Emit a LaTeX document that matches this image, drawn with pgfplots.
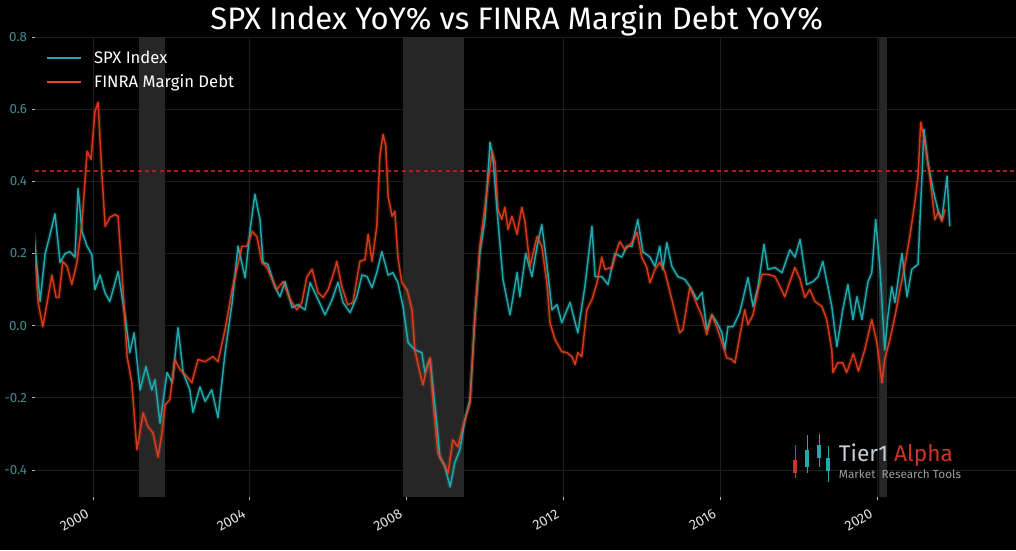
\documentclass[border=0pt]{standalone}
\usepackage{fontspec}
\setmainfont{Fira Sans}
\usepackage{pgfplots}
\usepackage{pgfplotstable}
\pgfplotsset{compat=1.18}
\definecolor{spx}{RGB}{32,168,172}
\definecolor{mrg}{RGB}{240,66,28}
\definecolor{thr}{RGB}{178,28,28}
\definecolor{ytc}{RGB}{62,140,146}
\definecolor{gridc}{RGB}{30,30,30}
\definecolor{shade}{RGB}{38,38,38}
\definecolor{wmgray}{RGB}{200,205,215}
\definecolor{wmred}{RGB}{205,52,40}

\pgfplotstableread{
x y
1998.49 0.258
1998.65 0.067
1998.78 0.20
1998.90 0.25
1999.03 0.31
1999.16 0.175
1999.29 0.20
1999.41 0.205
1999.54 0.19
1999.62 0.38
1999.72 0.26
1999.85 0.22
1999.97 0.197
2000.05 0.10
2000.18 0.14
2000.31 0.09
2000.43 0.067
2000.64 0.15
2000.82 0.025
2000.94 -0.075
2001.05 -0.02
2001.20 -0.178
2001.35 -0.114
2001.50 -0.178
2001.58 -0.15
2001.71 -0.27
2001.89 -0.13
2002.02 -0.158
2002.17 -0.006
2002.30 -0.13
2002.47 -0.178
2002.55 -0.24
2002.73 -0.17
2002.86 -0.21
2003.03 -0.178
2003.19 -0.255
2003.37 -0.075
2003.55 0.064
2003.70 0.22
2003.88 0.133
2004.01 0.267
2004.13 0.364
2004.26 0.294
2004.34 0.175
2004.46 0.17
2004.64 0.108
2004.77 0.08
2004.90 0.122
2005.08 0.05
2005.23 0.058
2005.41 0.044
2005.54 0.119
2005.71 0.08
2005.92 0.03
2006.10 0.072
2006.25 0.12
2006.38 0.064
2006.56 0.036
2006.73 0.08
2006.86 0.14
2006.99 0.136
2007.12 0.105
2007.24 0.147
2007.37 0.205
2007.53 0.14
2007.65 0.147
2007.78 0.119
2007.91 0.053
2008.04 -0.047
2008.21 -0.067
2008.39 -0.075
2008.47 -0.13
2008.60 -0.094
2008.78 -0.28
2008.85 -0.364
2008.98 -0.39
2009.11 -0.447
2009.23 -0.38
2009.36 -0.344
2009.49 -0.26
2009.62 -0.205
2009.74 0.017
2009.87 0.20
2010.00 0.294
2010.13 0.508
2010.20 0.47
2010.31 0.32
2010.38 0.23
2010.46 0.128
2010.64 0.03
2010.82 0.147
2010.89 0.08
2011.04 0.20
2011.20 0.136
2011.33 0.22
2011.45 0.28
2011.58 0.17
2011.71 0.044
2011.84 0.058
2011.96 0.008
2012.17 0.064
2012.37 -0.02
2012.55 0.108
2012.73 0.275
2012.81 0.136
2012.98 0.136
2013.14 0.114
2013.32 0.20
2013.49 0.19
2013.62 0.22
2013.75 0.22
2013.90 0.294
2014.03 0.205
2014.21 0.19
2014.34 0.164
2014.46 0.22
2014.54 0.156
2014.64 0.23
2014.77 0.164
2014.92 0.136
2015.10 0.128
2015.23 0.108
2015.41 0.072
2015.54 0.092
2015.66 -0.011
2015.79 0.03
2015.92 0.008
2016.05 -0.02
2016.12 -0.067
2016.20 -0.003
2016.33 -0.003
2016.50 0.036
2016.58 0.072
2016.71 0.133
2016.84 0.053
2016.97 0.108
2017.12 0.225
2017.22 0.156
2017.40 0.161
2017.58 0.147
2017.78 0.21
2017.91 0.19
2018.04 0.239
2018.21 0.114
2018.37 0.122
2018.50 0.136
2018.62 0.178
2018.75 0.108
2018.85 0.053
2018.98 -0.058
2019.13 0.044
2019.26 0.114
2019.39 0.017
2019.49 0.08
2019.62 0.017
2019.77 0.12
2019.87 0.147
2019.97 0.294
2020.08 0.156
2020.20 -0.067
2020.28 0.025
2020.38 0.108
2020.46 0.064
2020.64 0.20
2020.77 0.08
2020.89 0.156
2021.05 0.17
2021.15 0.414
2021.20 0.544
2021.30 0.453
2021.43 0.378
2021.56 0.32
2021.66 0.294
2021.79 0.414
2021.86 0.275
}\spxdata

\pgfplotstableread{
x y
1998.49 0.25
1998.60 0.064
1998.72 -0.003
1998.83 0.064
1998.95 0.14
1999.06 0.078
1999.13 0.078
1999.23 0.178
1999.34 0.164
1999.46 0.114
1999.59 0.175
1999.72 0.286
1999.85 0.483
1999.95 0.461
2000.05 0.594
2000.13 0.619
2000.23 0.414
2000.31 0.275
2000.43 0.30
2000.56 0.308
2000.64 0.303
2000.74 0.147
2000.87 -0.086
2000.99 -0.158
2001.12 -0.344
2001.28 -0.242
2001.40 -0.28
2001.53 -0.297
2001.66 -0.364
2001.76 -0.297
2001.84 -0.22
2001.96 -0.205
2002.09 -0.094
2002.22 -0.122
2002.40 -0.142
2002.52 -0.158
2002.68 -0.094
2002.86 -0.10
2003.06 -0.086
2003.19 -0.10
2003.37 -0.011
2003.55 0.10
2003.80 0.22
2003.93 0.22
2004.06 0.261
2004.18 0.247
2004.31 0.175
2004.44 0.161
2004.57 0.128
2004.69 0.10
2004.85 0.122
2005.03 0.072
2005.20 0.044
2005.33 0.064
2005.46 0.136
2005.59 0.156
2005.74 0.092
2005.87 0.078
2006.00 0.10
2006.17 0.156
2006.22 0.178
2006.35 0.108
2006.50 0.058
2006.63 0.064
2006.81 0.178
2006.94 0.183
2007.02 0.253
2007.12 0.178
2007.24 0.275
2007.32 0.47
2007.40 0.53
2007.47 0.497
2007.53 0.358
2007.63 0.303
2007.70 0.317
2007.78 0.19
2007.88 0.119
2008.01 0.10
2008.14 0.044
2008.21 -0.067
2008.34 -0.13
2008.42 -0.164
2008.52 -0.114
2008.60 -0.089
2008.67 -0.205
2008.80 -0.353
2008.93 -0.38
2009.06 -0.408
2009.18 -0.317
2009.31 -0.336
2009.44 -0.28
2009.62 -0.214
2009.74 0.017
2009.87 0.22
2010.00 0.33
2010.18 0.483
2010.26 0.453
2010.33 0.322
2010.43 0.294
2010.51 0.328
2010.59 0.267
2010.69 0.303
2010.82 0.253
2010.94 0.328
2011.02 0.29
2011.15 0.164
2011.33 0.247
2011.45 0.22
2011.58 0.119
2011.66 0.008
2011.79 -0.039
2011.96 -0.072
2012.09 -0.075
2012.22 -0.086
2012.30 -0.108
2012.37 -0.075
2012.47 -0.086
2012.60 0.044
2012.73 0.072
2012.86 0.119
2012.98 0.19
2013.06 0.156
2013.24 0.161
2013.37 0.211
2013.44 0.233
2013.57 0.211
2013.75 0.23
2013.88 0.258
2014.00 0.19
2014.13 0.161
2014.21 0.119
2014.34 0.156
2014.46 0.175
2014.59 0.15
2014.77 0.072
2014.97 -0.02
2015.05 -0.011
2015.23 0.108
2015.36 0.072
2015.54 0.025
2015.66 -0.025
2015.79 0.03
2015.92 -0.006
2016.05 -0.047
2016.17 -0.089
2016.30 -0.094
2016.38 -0.103
2016.50 -0.03
2016.63 0.044
2016.71 0.003
2016.84 0.03
2016.97 0.10
2017.07 0.142
2017.22 0.142
2017.40 0.136
2017.53 0.108
2017.65 0.08
2017.78 0.122
2017.91 0.161
2018.04 0.128
2018.16 0.078
2018.29 0.10
2018.42 0.067
2018.60 0.053
2018.72 0.017
2018.85 -0.067
2018.88 -0.13
2019.00 -0.103
2019.13 -0.103
2019.23 -0.13
2019.40 -0.078
2019.53 -0.126
2019.69 -0.067
2019.87 0.017
2020.00 -0.047
2020.13 -0.158
2020.20 -0.094
2020.33 -0.039
2020.46 0.025
2020.59 0.10
2020.71 0.164
2020.84 0.247
2020.97 0.342
2021.05 0.414
2021.12 0.564
2021.22 0.508
2021.35 0.414
2021.48 0.294
2021.56 0.314
2021.66 0.289
2021.74 0.322
}\mrgdata

\begin{document}
\begin{tikzpicture}[x=1pt,y=1pt]
\fill[black] (0,0) rectangle (762,412.5);
\begin{axis}[
  at={(26.25pt,39.75pt)}, anchor=south west, scale only axis,
  width=735.75pt, height=345pt,
  xmin=1998.52, xmax=2023.55, ymin=-0.475, ymax=0.8,
  axis line style={draw=none},
  xtick={2000,2004,2008,2012,2016,2020},
  ytick={-0.4,-0.2,0,0.2,0.4,0.6,0.8},
  xtick pos=lower, ytick pos=left,
  tick align=outside, major tick length=2.5pt,
  tick style={draw=white!70!black, line width=0.5pt},
  xticklabel style={/pgf/number format/1000 sep={}, /pgf/number format/assume math mode=true,
     rotate=30, anchor=east, inner sep=1pt, font=\fontsize{10.5}{11}\selectfont, text=white!88!black, xshift=-7pt, yshift=-6pt},
  yticklabel style={/pgf/number format/fixed, /pgf/number format/fixed zerofill,
     /pgf/number format/precision=1, /pgf/number format/assume math mode=true,
     font=\fontsize{10}{11}\selectfont, text=ytc},
  grid=major, major grid style={draw=gridc, line width=0.5pt},
  clip=true,
  legend style={at={(0.007,0.982)}, anchor=north west, draw=none, fill=none,
     text=white, font=\fontsize{12.5}{14}\selectfont, row sep=2.5pt,
     /tikz/every odd column/.append style={column sep=7pt}},
  legend cell align=left,
  every axis plot/.append style={line join=round},
]
% recession shading
\addplot[fill=shade, draw=none, forget plot] coordinates {(2001.17,-0.475) (2001.83,-0.475) (2001.83,0.8) (2001.17,0.8)} --cycle;
\addplot[fill=shade, draw=none, forget plot] coordinates {(2007.92,-0.475) (2009.46,-0.475) (2009.46,0.8) (2007.92,0.8)} --cycle;
\addplot[fill=shade, draw=none, forget plot] coordinates {(2020.05,-0.475) (2020.25,-0.475) (2020.25,0.8) (2020.05,0.8)} --cycle;
% glows
\addplot[color=spx, line width=3.2pt, opacity=0.2, forget plot] table {\spxdata};
\addplot[color=mrg, line width=3.2pt, opacity=0.2, forget plot] table {\mrgdata};
% threshold line
\addplot[color=thr, line width=1.5pt, dash pattern=on 3pt off 2.5pt, forget plot] coordinates {(1998.52,0.428) (2023.55,0.428)};
% lines
\addplot[color=spx, line width=1.1pt, forget plot] table {\spxdata};
\addplot[color=mrg, line width=1.1pt, opacity=0.85, forget plot] table {\mrgdata};
\addlegendimage{legend image code/.code={\draw[draw=spx, line width=1.3pt] (0pt,0pt) -- (25.5pt,0pt);}}
\addlegendentry{SPX Index}
\addlegendimage{legend image code/.code={\draw[draw=mrg, line width=1.5pt] (0pt,0pt) -- (25.5pt,0pt);}}
\addlegendentry{FINRA Margin Debt}
\end{axis}
% title
\node[text=white, font=\fontsize{23.3}{27}\selectfont] at (387.5,397) {SPX Index YoY\% vs FINRA Margin Debt YoY\%};
% watermark logo
\begin{scope}[line width=0.7pt]
 \draw[wmred] (596.25,54) -- (596.25,79); \fill[wmred] (594.5,57.5) rectangle (598,67.5);
 \draw[spx] (605.25,58) -- (605.25,86); \fill[spx] (603.5,62) rectangle (607,75);
 \draw[spx] (614.25,62) -- (614.25,87); \fill[spx] (612.5,69) rectangle (616,79);
 \draw[spx] (621,51) -- (621,78); \fill[spx] (619.25,59) rectangle (622.75,69);
\end{scope}
\node[anchor=west, inner sep=0pt, font=\fontsize{17}{19}\selectfont] at (629,71) {\textcolor{wmgray}{Tier1} \textcolor{wmred}{Alpha}};
\node[anchor=west, inner sep=0pt, font=\fontsize{8.8}{10}\selectfont, text=white!62!black] at (629,56.5) {Market\ \ Research Tools};
\pgfresetboundingbox
\path (0,0) rectangle (762,412.5);
\end{tikzpicture}
\end{document}
